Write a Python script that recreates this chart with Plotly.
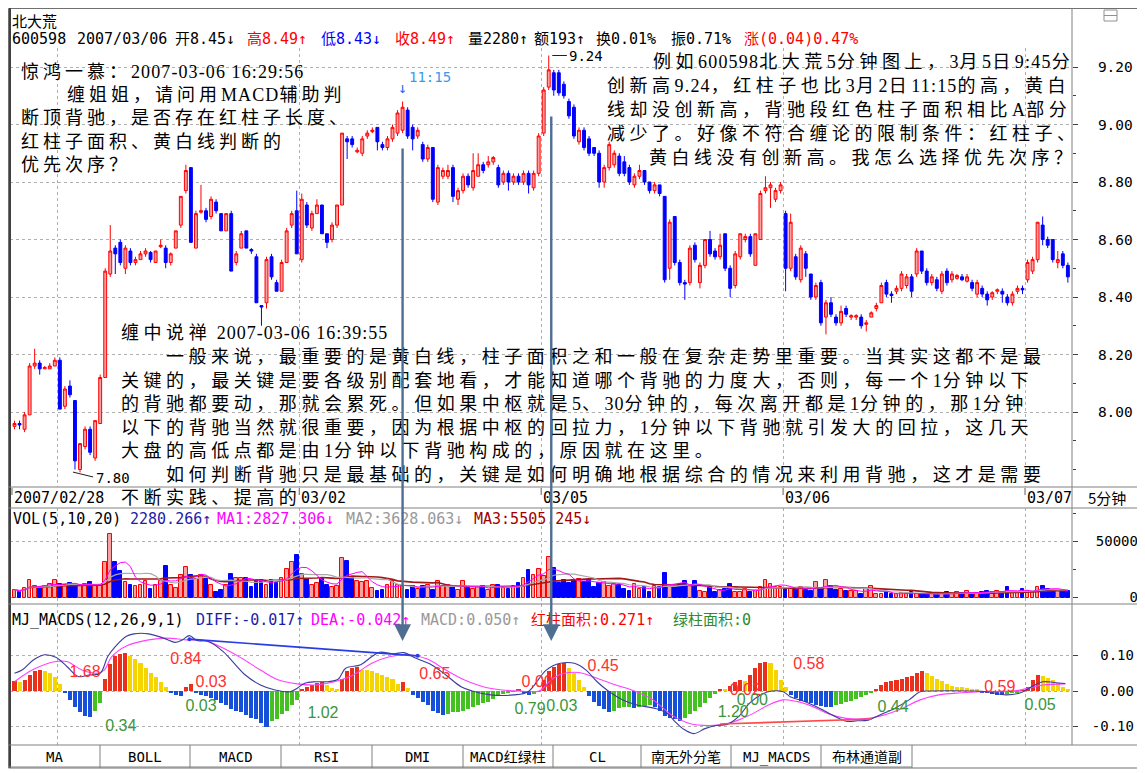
import plotly.graph_objects as go
import pandas as pd

# The page body has an 8px default margin, so the figure is drawn 8px smaller
# and every reference pixel position is shifted by that margin.
PAGE_W, PAGE_H, BODY_MARGIN = 1145, 773, 8
W, H = PAGE_W - BODY_MARGIN, PAGE_H - BODY_MARGIN
def X(px): return (px - BODY_MARGIN) / W
def Y(py): return 1 - (py - BODY_MARGIN) / H

# ---------------- data ----------------
OPEN = [7.95,7.96,7.94,7.99,8.16,8.17,8.15,8.15,8.16,
 8.18,8.02,8.09,8.04,7.80,7.88,7.94,7.84,7.96,8.12,8.48,8.57,8.59,8.50,8.56,8.52,8.53,8.55,8.555,8.52,8.575,8.57,8.52,8.57,8.65,8.77,8.85,8.57,8.695,8.70,8.68,8.73,8.69,8.63,8.69,8.52,8.57,8.63,8.565,8.54,8.37,8.38,8.54,8.45,8.42,8.52,8.65,8.70,
 8.53,8.72,8.64,8.69,8.72,8.62,8.60,8.65,8.72,8.95,8.95,8.905,8.90,8.96,8.975,8.99,8.93,8.92,8.95,8.97,8.98,9.05,8.99,8.96,8.93,8.88,8.92,8.73,8.82,8.82,8.85,8.74,8.77,8.82,8.78,8.82,8.86,8.86,8.87,8.85,8.80,8.83,8.80,8.82,8.80,8.83,8.78,8.83,
 8.97,9.13,9.18,9.18,9.14,9.08,9.06,8.94,8.98,8.95,8.92,8.90,8.80,8.85,8.86,8.89,8.87,8.85,8.79,8.82,8.84,8.80,8.77,8.79,8.75,8.50,8.68,8.52,8.45,8.45,8.58,8.45,8.51,8.60,8.56,8.54,8.62,8.50,8.44,8.54,8.60,8.61,8.51,8.60,8.77,8.78,8.74,8.77,
 8.69,8.50,8.54,8.46,8.55,8.48,8.40,8.45,8.33,8.38,8.33,8.31,8.36,8.33,8.33,8.33,8.305,8.33,8.36,8.38,8.45,8.41,8.42,8.43,8.44,8.47,8.48,8.56,8.49,8.45,8.46,8.42,8.49,8.46,8.465,8.47,8.455,8.45,8.41,8.43,8.41,8.40,8.42,8.42,8.40,8.38,8.42,8.43,
 8.46,8.49,8.53,8.65,8.60,8.60,8.52,8.55,8.51]
HIGH = [7.97,7.97,8.00,8.17,8.22,8.18,8.16,8.17,8.19,
 8.19,8.09,8.11,8.04,7.89,7.95,7.95,7.97,8.13,8.50,8.65,8.58,8.60,8.58,8.57,8.54,8.56,8.57,8.56,8.56,8.60,8.58,8.555,8.63,8.75,8.86,8.85,8.70,8.79,8.71,8.75,8.74,8.69,8.69,8.70,8.56,8.63,8.63,8.57,8.55,8.37,8.54,8.55,8.46,8.53,8.64,8.70,8.77,
 8.76,8.73,8.70,8.74,8.72,8.62,8.66,8.72,8.97,8.96,8.96,8.92,8.96,8.98,8.99,8.99,8.94,8.96,9.00,9.05,9.08,9.06,9.00,8.99,8.94,8.93,8.92,8.86,8.85,8.86,8.86,8.78,8.83,8.83,8.90,8.90,8.87,8.89,8.89,8.86,8.84,8.84,8.83,8.83,8.84,8.84,8.84,8.97,
 9.13,9.24,9.19,9.19,9.15,9.09,9.07,8.99,8.99,8.96,8.92,8.91,8.86,8.94,8.91,8.90,8.89,8.86,8.83,8.86,8.84,8.80,8.80,8.79,8.75,8.67,8.68,8.53,8.46,8.58,8.59,8.52,8.60,8.63,8.57,8.62,8.62,8.51,8.56,8.62,8.62,8.62,8.62,8.77,8.82,8.80,8.78,8.80,
 8.70,8.69,8.55,8.58,8.56,8.48,8.45,8.46,8.39,8.40,8.34,8.37,8.37,8.34,8.34,8.34,8.32,8.35,8.38,8.45,8.46,8.42,8.44,8.49,8.48,8.48,8.57,8.56,8.50,8.48,8.47,8.49,8.50,8.49,8.48,8.48,8.48,8.46,8.46,8.44,8.42,8.42,8.43,8.43,8.41,8.42,8.44,8.44,
 8.53,8.54,8.66,8.68,8.61,8.60,8.56,8.56,8.52]
LOW = [7.94,7.94,7.93,7.99,8.15,8.13,8.15,8.15,8.16,
 8.01,8.01,8.05,7.80,7.79,7.87,7.85,7.83,7.96,8.12,8.47,8.48,8.51,8.48,8.51,8.51,8.53,8.54,8.52,8.52,8.57,8.50,8.51,8.57,8.64,8.76,8.59,8.57,8.69,8.66,8.67,8.69,8.63,8.63,8.49,8.51,8.57,8.57,8.55,8.38,8.30,8.36,8.46,8.42,8.42,8.52,8.64,8.55,
 8.52,8.64,8.63,8.69,8.62,8.57,8.59,8.64,8.72,8.88,8.92,8.90,8.89,8.95,8.97,8.91,8.91,8.91,8.94,8.96,8.97,8.95,8.91,8.95,8.87,8.87,8.73,8.72,8.81,8.81,8.73,8.72,8.76,8.78,8.77,8.82,8.83,8.85,8.86,8.78,8.79,8.77,8.79,8.79,8.79,8.76,8.77,8.82,
 8.96,9.12,9.10,9.10,9.09,9.02,8.95,8.93,8.91,8.89,8.89,8.78,8.78,8.84,8.85,8.82,8.82,8.79,8.78,8.81,8.79,8.76,8.76,8.75,8.45,8.46,8.51,8.44,8.39,8.44,8.52,8.43,8.50,8.54,8.53,8.53,8.49,8.40,8.43,8.53,8.59,8.54,8.51,8.60,8.76,8.71,8.73,8.76,
 8.42,8.49,8.46,8.45,8.47,8.39,8.39,8.30,8.27,8.33,8.30,8.30,8.33,8.32,8.32,8.29,8.28,8.33,8.35,8.38,8.40,8.38,8.41,8.42,8.43,8.40,8.47,8.48,8.44,8.44,8.42,8.41,8.44,8.45,8.46,8.455,8.45,8.42,8.40,8.40,8.37,8.39,8.41,8.38,8.37,8.37,8.41,8.41,
 8.45,8.48,8.52,8.58,8.57,8.52,8.50,8.50,8.45]
CLOSE = [7.96,7.955,7.99,8.16,8.17,8.15,8.155,8.16,8.18,
 8.01,8.08,8.06,7.83,7.89,7.94,7.86,7.97,8.12,8.49,8.56,8.55,8.52,8.57,8.52,8.53,8.55,8.56,8.53,8.56,8.58,8.52,8.55,8.63,8.75,8.84,8.59,8.69,8.70,8.67,8.74,8.70,8.63,8.69,8.49,8.55,8.62,8.57,8.56,8.38,8.365,8.53,8.47,8.42,8.52,8.63,8.69,8.55,
 8.74,8.65,8.69,8.72,8.62,8.59,8.65,8.72,8.97,8.94,8.93,8.91,8.95,8.97,8.98,8.94,8.92,8.95,8.99,9.04,9.06,8.96,8.95,8.98,8.88,8.92,8.74,8.85,8.84,8.84,8.75,8.77,8.82,8.79,8.84,8.86,8.84,8.87,8.885,8.79,8.83,8.80,8.82,8.80,8.83,8.79,8.83,8.96,
 9.12,9.19,9.12,9.11,9.10,9.03,8.96,8.98,8.92,8.90,8.90,8.80,8.85,8.93,8.90,8.83,8.83,8.80,8.82,8.84,8.80,8.77,8.79,8.76,8.46,8.66,8.52,8.45,8.445,8.57,8.53,8.51,8.60,8.55,8.54,8.58,8.50,8.43,8.55,8.62,8.61,8.55,8.62,8.76,8.78,8.79,8.77,8.79,
 8.50,8.66,8.47,8.57,8.50,8.40,8.44,8.31,8.38,8.34,8.31,8.35,8.34,8.335,8.335,8.30,8.31,8.345,8.37,8.44,8.41,8.405,8.43,8.48,8.47,8.42,8.56,8.49,8.45,8.47,8.43,8.48,8.45,8.48,8.475,8.46,8.47,8.43,8.45,8.41,8.39,8.415,8.425,8.41,8.38,8.41,8.43,8.425,
 8.52,8.53,8.66,8.60,8.58,8.53,8.53,8.51,8.47]
VOLUME = [7000,5000,8500,15700,10000,9000,10000,12000,15700,
 12000,11400,12800,11400,10000,12000,13700,10000,10900,32000,57000,32000,23400,14000,11400,10000,11400,14300,8000,11400,14900,28000,11400,8600,20000,27000,20000,16600,20000,16600,11400,5100,6300,11400,21400,17700,17700,17700,9100,15700,15700,11400,15700,12900,17700,25700,32000,37700,
 21400,16600,11400,12900,16600,11400,9100,10000,35700,32900,18600,14900,13400,14300,8600,5700,6300,11400,14900,11400,10000,7100,10000,8000,10000,11400,7100,14900,10000,11400,9100,6300,14900,8600,8000,9100,10000,6300,11400,11400,8600,8000,10000,12600,17100,24300,20000,25700,
 18900,36000,26000,13300,15300,13300,15300,16100,14100,15300,9600,13300,14100,10500,11900,11300,7600,6200,11900,7600,9000,4800,10500,9600,21800,9600,9000,12400,14700,10500,14700,5600,4800,9000,4800,6800,7600,11900,5100,5100,7600,4800,6800,9600,15300,12400,9000,9600,
 8500,7600,7600,9600,6800,5600,14100,7600,15300,10500,6800,7600,5600,5600,5600,3400,7600,10500,2800,2800,4800,2800,2800,3900,2800,4800,2800,3400,2800,2800,3400,2800,4800,2800,4800,3900,6200,3400,3900,4800,6200,4800,5600,4800,9600,4800,4800,7600,
 5600,4800,9600,10500,7600,6200,5600,5600,6200]
MACD_BAR = [0.027,0.026,0.030,0.045,0.055,0.059,0.056,0.050,0.040,
 0.020,-0.005,-0.025,-0.045,-0.060,-0.070,-0.072,-0.055,-0.035,0.035,0.075,0.100,0.105,0.108,0.100,0.090,0.080,0.065,0.050,0.040,0.025,0.010,-0.005,-0.012,-0.015,0.012,0.020,-0.005,-0.010,-0.015,-0.020,-0.025,-0.035,-0.040,-0.050,-0.055,-0.060,-0.068,-0.075,-0.080,-0.090,-0.100,-0.085,-0.078,-0.065,-0.055,-0.040,-0.025,
 0.005,0.012,0.018,0.022,0.025,0.018,0.008,0.005,0.035,0.055,0.065,0.068,0.060,0.058,0.055,0.050,0.045,0.040,0.033,0.020,0.024,0.008,-0.010,-0.020,-0.030,-0.040,-0.055,-0.062,-0.067,-0.065,-0.060,-0.058,-0.055,-0.050,-0.045,-0.040,-0.035,-0.030,-0.022,-0.015,-0.008,-0.004,-0.002,0.003,-0.005,-0.010,-0.008,-0.002,
 0.030,0.055,0.068,0.075,0.078,0.065,0.052,0.030,0.010,-0.015,-0.030,-0.042,-0.050,-0.058,-0.055,-0.048,-0.046,-0.045,-0.048,-0.045,-0.042,-0.040,-0.045,-0.055,-0.070,-0.075,-0.080,-0.085,-0.075,-0.065,-0.055,-0.045,-0.035,-0.020,-0.008,0.005,0.004,0.015,0.025,0.030,0.028,0.045,0.065,0.080,0.082,0.078,0.060,0.030,
 0.010,-0.010,-0.020,-0.028,-0.032,-0.035,-0.040,-0.042,-0.045,-0.045,-0.040,-0.036,-0.032,-0.028,-0.023,-0.018,-0.012,-0.006,0.005,0.018,0.025,0.028,0.030,0.035,0.040,0.042,0.050,0.055,0.050,0.042,0.035,0.028,0.020,0.015,0.012,0.010,0.008,0.005,0.003,-0.003,-0.006,-0.008,-0.010,-0.010,-0.008,-0.006,-0.003,0.002,
 0.010,0.030,0.045,0.042,0.038,0.030,0.022,0.012,0.005]

DIFF_I = [0,1.5,3.8,6,8.2,10.4,12.6,14.8,17,18.5,20,22.2,23.7,26.6,29.6,31.8,33.3,34.7,36.2,38.4,41.4,43.6,45.8,48.8,51.7,54.7,56.1,57.6,59.8,62,64.2,65.7,68.7,70.9,72.4,75.3,77.2,79.7,82.7,85.6,88.6,90.8,94.5,99,101.9,105.5,108.3,111.1,113.4,115.6,117.8,120.7,123.7,127.4,129.6,131.1,132.6,134.8,137,139.2,141.4,143.6,145.8,148,150.3,152.5,153.9,156.9,159.8,162.8,165,167.2,169.4,171.6,174.6,177.5,179.7,181.9,189.3,193,196.7,199.6,201.8,204,206.3,208.5]
DIFF_V = [0.050,0.059,0.088,0.102,0.095,0.069,0.041,0.045,0.050,0.097,0.125,0.154,0.161,0.161,0.149,0.137,0.144,0.156,0.142,0.140,0.111,0.078,0.045,0.017,0.003,-0.002,0.008,0.022,0.026,0.026,0.033,0.064,0.074,0.097,0.109,0.105,0.108,0.092,0.074,0.045,0.012,0.0,-0.011,-0.011,-0.002,0.059,0.078,0.078,0.059,0.026,0.0,-0.025,-0.040,-0.050,-0.064,-0.087,-0.106,-0.120,-0.106,-0.097,-0.094,-0.073,-0.035,-0.011,0.0,-0.002,-0.016,-0.030,-0.049,-0.072,-0.085,-0.084,-0.082,-0.068,-0.049,-0.025,-0.002,0.0,0.0,-0.002,-0.011,-0.005,0.012,0.026,0.024,0.021]
DEA_I = [0,3.8,8.2,10.4,13.4,16.3,17.8,19.3,22.2,26.6,30.3,34,37.7,41.4,45.1,48.8,52.4,56.1,59.8,63.5,67.2,70.9,74.6,78.3,81.9,85.6,89.3,93,96.7,100.4,104.1,106,108,110,112,115.6,119.3,123,126.7,130.4,134.1,137.8,140.7,143.6,146.6,149.5,152.5,155.4,158.4,161.3,165,169.4,172.4,176.1,179.7,183.4,187.9,191.5,195.2,198.9,201.1,204,208.5]
DEA_V = [0.026,0.061,0.083,0.083,0.059,0.050,0.059,0.097,0.127,0.144,0.149,0.144,0.142,0.121,0.092,0.059,0.031,0.020,0.017,0.026,0.045,0.078,0.097,0.102,0.090,0.059,0.031,0.012,0.003,0.0,0.0,0.025,0.045,0.052,0.052,0.036,0.017,0.0,-0.025,-0.068,-0.092,-0.097,-0.094,-0.082,-0.063,-0.040,-0.025,-0.030,-0.044,-0.063,-0.077,-0.077,-0.068,-0.049,-0.025,-0.011,-0.005,-0.002,-0.002,0.001,0.008,0.017,0.020]

DIV_BLUE_I = [34.7, 80.0]
DIV_BLUE_V = [0.146, 0.099]
DIV_RED_I = [140.0, 170.1]
DIV_RED_V = [-0.093, -0.079]

RED_LBL = ["1.68", "0.84", "0.03", "0.65", "0.00", "0.45", "0.02", "0.58", "0.59"]
RED_LBL_I = [14.0, 34.0, 39.0, 83.4, 103.7, 116.8, 145.0, 157.6, 195.5]
RED_LBL_V = [0.051, 0.087, 0.023, 0.045, 0.023, 0.068, 0.0, 0.073, 0.008]
GRN_LBL = ["0.34", "0.03", "1.02", "0.79", "0.03", "1.20", "0.00", "0.44", "0.05"]
GRN_LBL_I = [21.1, 37.0, 61.2, 102.3, 108.6, 142.6, 146.4, 174.3, 203.5]
GRN_LBL_V = [-0.101, -0.045, -0.065, -0.054, -0.045, -0.062, -0.028, -0.048, -0.042]

PRICE_TICKS = [8.0, 8.2, 8.4, 8.6, 8.8, 9.0, 9.2]
VOL_TICKS = [0, 50000]
MACD_TICKS = [-0.1, 0.0, 0.1]
DAY_BOUNDS = [-0.5, 56.5, 104.5, 152.5, 200.5]
DAY_LABELS = ["2007/02/28", "03/02", "03/05", "03/06", "03/07"]
GRID_BOUNDS = [8.5, 56.5, 104.5, 152.5, 200.5]
TABS = ["MA", "BOLL", "MACD", "RSI", "DMI", "MACD红绿柱", "CL", "南无外分笔", "MJ_MACDS", "布林通道副"]
TAB_EDGES = [8, 100, 190, 281, 372, 463, 553, 641, 731, 821, 912]

N = len(CLOSE)
for arr in (OPEN, HIGH, LOW, VOLUME, MACD_BAR):
    assert len(arr) == N, len(arr)
XS = list(range(N))

# ---------------- styles ----------------
RED = "#ff0000"
RED_FILL = "#f9a0a0"
BLUE = "#0000ff"
MONO = "DejaVu Sans Mono, Noto Sans CJK SC"
SERIF = "Liberation Serif, Noto Sans CJK SC"
CJK = "Noto Sans CJK SC"

X_LEFT, X_RIGHT = 10, 1072
I0, DI = 14.5, 5.04
xr = [(X_LEFT - I0) / DI, (X_RIGHT - I0) / DI]

fig = go.Figure()

fig.add_trace(go.Candlestick(
    x=XS, open=OPEN, high=HIGH, low=LOW, close=CLOSE,
    increasing=dict(line=dict(color=RED, width=1), fillcolor=RED_FILL),
    decreasing=dict(line=dict(color=BLUE, width=1), fillcolor=BLUE),
    whiskerwidth=0, showlegend=False, hoverinfo="skip", xaxis="x", yaxis="y"))

up = [c >= o for o, c in zip(OPEN, CLOSE)]
fig.add_trace(go.Bar(
    x=XS, y=VOLUME, width=0.74, xaxis="x", yaxis="y2", showlegend=False,
    marker=dict(color=[RED_FILL if u else BLUE for u in up],
                line=dict(color=[RED if u else BLUE for u in up], width=1))))

vs = pd.Series(VOLUME, dtype=float)
for win, col, wd in ((20, "#a01818", 1.6), (10, "#a8a8a8", 1.2), (5, "#ff00ff", 1.0)):
    fig.add_trace(go.Scatter(x=XS, y=vs.rolling(win, min_periods=1).mean(), mode="lines",
                             line=dict(color=col, width=wd), xaxis="x", yaxis="y2",
                             showlegend=False, hoverinfo="skip"))

mcols = []
prev = 0.0
for v in MACD_BAR:
    if v >= 0:
        mcols.append("#e8301c" if v >= prev else "#f5d400")
    else:
        mcols.append("#1650d8" if v <= prev else "#44c020")
    prev = v
fig.add_trace(go.Bar(x=XS, y=MACD_BAR, width=0.8, xaxis="x", yaxis="y3", showlegend=False,
                     marker=dict(color=mcols, line=dict(width=0))))
fig.add_trace(go.Scatter(x=DEA_I, y=DEA_V, mode="lines", line=dict(color="#ff40ff", width=1.1, shape="spline"),
                         xaxis="x", yaxis="y3", showlegend=False))
fig.add_trace(go.Scatter(x=DIFF_I, y=DIFF_V, mode="lines", line=dict(color="#3c3c9c", width=1.1, shape="spline"),
                         xaxis="x", yaxis="y3", showlegend=False))
fig.add_trace(go.Scatter(x=DIV_BLUE_I, y=DIV_BLUE_V, mode="lines+markers", line=dict(color="#2a3ce8", width=1.6),
                         marker=dict(size=4, color="#2a3ce8"), xaxis="x", yaxis="y3", showlegend=False))
fig.add_trace(go.Scatter(x=DIV_RED_I, y=DIV_RED_V, mode="lines", line=dict(color="#ff4a4a", width=1.6),
                         xaxis="x", yaxis="y3", showlegend=False))
fig.add_trace(go.Scatter(x=RED_LBL_I, y=RED_LBL_V, text=RED_LBL, mode="text",
                         textfont=dict(family="Liberation Sans", size=16, color="#ff3030"),
                         xaxis="x", yaxis="y3", showlegend=False))
fig.add_trace(go.Scatter(x=GRN_LBL_I, y=GRN_LBL_V, text=GRN_LBL, mode="text",
                         textfont=dict(family="Liberation Sans", size=16, color="#3a963a"),
                         xaxis="x", yaxis="y3", showlegend=False))

# ---------------- axes ----------------
def py_to_price(py): return 9.20 - (py - 67) / 287.5
def py_to_vol(py): return (597.5 - py) / 56 * 50000
def py_to_macd(py): return (691 - py) / 355

grid = dict(showgrid=True, gridcolor="#b0b0b0", griddash="dot", gridwidth=1, zeroline=False)
fig.update_layout(
    width=W, height=H, margin=dict(l=0, r=0, t=0, b=0), autosize=False,
    paper_bgcolor="white", plot_bgcolor="white", bargap=0, boxgap=0.18, showlegend=False,
    xaxis=dict(domain=[X(X_LEFT), X(X_RIGHT)], range=xr, showticklabels=False, ticks="",
               tickvals=GRID_BOUNDS, rangeslider=dict(visible=False), showline=False, anchor="y", **grid),
    yaxis=dict(domain=[Y(487), Y(48)], range=[py_to_price(487), py_to_price(48)], side="right",
               anchor="x", tickvals=PRICE_TICKS, ticktext=[f"{v:.2f}" for v in PRICE_TICKS],
               ticks="outside", ticklen=5, tickcolor="#404040",
               minor=dict(ticks="outside", ticklen=3, dtick=0.1, tickcolor="#404040", showgrid=False),
               tickfont=dict(family=MONO, size=14.5, color="black"), ticklabelstandoff=17, **grid),
    yaxis2=dict(domain=[Y(604), Y(508)], range=[py_to_vol(604), py_to_vol(508)], side="right",
                anchor="x", tickvals=VOL_TICKS, ticktext=["\u00a0" * 4 + "0", "50000"],
                ticks="outside", ticklen=5, tickcolor="#404040",
                minor=dict(ticks="outside", ticklen=3, dtick=25000, tickcolor="#404040", showgrid=False),
                tickfont=dict(family=MONO, size=14, color="black"), ticklabelstandoff=15, **grid),
    yaxis3=dict(domain=[Y(745), Y(604)], range=[py_to_macd(745), py_to_macd(604)], side="right",
                anchor="x", tickvals=MACD_TICKS, ticktext=["-0.10", "\u00a00.00", "\u00a00.10"],
                ticks="outside", ticklen=5, tickcolor="#404040",
                tickfont=dict(family=MONO, size=14, color="black"), ticklabelstandoff=11, **grid),
)

# ---------------- frame lines ----------------
shapes = []
def hline(y, x0=8, x1=1141, col="#808080", w=1):
    shapes.append(dict(type="line", xref="paper", yref="paper", x0=X(x0), x1=X(x1), y0=Y(y), y1=Y(y),
                       line=dict(color=col, width=w)))
def vline(x, y0, y1, col="#808080", w=1):
    shapes.append(dict(type="line", xref="paper", yref="paper", x0=X(x), x1=X(x), y0=Y(y0), y1=Y(y1),
                       line=dict(color=col, width=w)))
shapes.append(dict(type="rect", xref="paper", yref="paper", x0=X(8.5), x1=X(1141), y0=Y(768), y1=Y(8.5),
                   line=dict(color="#707070", width=1)))
vline(10, 8, 768, "#404040", 2)
hline(487); hline(508); hline(604); hline(745)
vline(1072, 8, 745)
vline(1138, 8, 768, "#a0a0a0")
for xe in TAB_EDGES:
    vline(xe, 745, 768)
hline(767, 8, 912)
shapes.append(dict(type="rect", xref="paper", yref="paper", x0=X(1104), x1=X(1117), y0=Y(21), y1=Y(10),
                   line=dict(color="#909090", width=1)))
hline(15.5, 1104, 1117, "#909090")
for b in DAY_BOUNDS:
    shapes.append(dict(type="line", xref="x", yref="paper", x0=b, x1=b, y0=Y(488), y1=Y(495),
                       line=dict(color="#606060", width=1)))
shapes.append(dict(type="line", xref="x", yref="y", x0=106.7, x1=109.6, y0=9.24, y1=9.24,
                   line=dict(color="#202020", width=1)))
shapes.append(dict(type="line", xref="x", yref="y", x0=11.6, x1=15.6, y0=7.791, y1=7.774,
                   line=dict(color="#202020", width=1)))
fig.update_layout(shapes=shapes)

# ---------------- texts ----------------
ann = []
def txt(x, y, s, size=14, fam=MONO, col="black", anchor="left", yanchor="middle"):
    ann.append(dict(x=X(x), y=Y(y), xref="paper", yref="paper", text=s, showarrow=False,
                    xanchor=anchor, yanchor=yanchor, borderpad=0,
                    font=dict(family=fam, size=size, color=col)))

def sp(s, ls=4.2, lat=1.0):
    out, run, mode = [], "", None
    def flush(r, m):
        if r:
            out.append(f'<span style="letter-spacing:{ls if m else lat}px">{r}</span>')
    for ch in s:
        m = ord(ch) >= 0x2E80
        if mode is not None and m != mode:
            flush(run, mode); run = ""
        run += ch; mode = m
    flush(run, mode)
    return "".join(out)

def segments(y, segs, size=15):
    for s, x, col in segs:
        txt(x, y, s, size=size, col=col)

# header
txt(11, 9, "北大荒", size=15, fam=CJK, yanchor="top")
HDR = [("600598", 11, "black"), ("2007/03/06", 76, "black"), ("开8.45↓", 174, "black"),
       ("高8.49↑", 246, RED), ("低8.43↓", 320, BLUE), ("收8.49↑", 394, RED), ("量2280↑", 467, "black"),
       ("额193↑", 533, "black"), ("换0.01%", 595, "black"), ("振0.71%", 670, "black"),
       ("涨(0.04)0.47%", 743, RED)]
segments(39, HDR)

NAVY = "#1c1ca8"
VOLH = [("VOL(5,10,20)", 12, "black"), ("2280.266↑", 129, NAVY), ("MA1:2827.306↓", 216, "#ff00ff"),
        ("MA2:3628.063↓", 345, "#999999"), ("MA3:5505.245↓", 473, "#a00000")]
segments(519, VOLH)
MACDH = [("MJ_MACDS(12,26,9,1)", 11, "black"), ("DIFF:-0.017↑", 195, NAVY), ("DEA:-0.042↑", 310, "#ff00ff"),
         ("MACD:0.050↑", 420, "#999999"), ("红柱面积:0.271↑", 530, RED), ("绿柱面积:0", 672, "#2e8b2e")]
segments(620, MACDH)

# date strip
for b, lab in zip(DAY_BOUNDS, DAY_LABELS):
    ann.append(dict(x=b, y=Y(498), xref="x", yref="paper", text=lab, showarrow=False, xanchor="left",
                    yanchor="middle", xshift=0, font=dict(family=MONO, size=15, color="black")))
txt(1107, 498, "5分钟", size=15, fam=CJK, anchor="center")

# tabs
for i, t in enumerate(TABS):
    txt((TAB_EDGES[i] + TAB_EDGES[i + 1]) / 2, 757, t, size=14, anchor="center")

# block 1
B1 = ["惊鸿一慕：2007-03-06 16:29:56", "缠姐姐，请问用MACD辅助判", "断顶背驰，是否存在红柱子长度、",
      "红柱子面积、黄白线判断的", "优先次序？"]
B1_X = [20, 66, 20, 20, 20]
B1_Y = [72, 95, 118.5, 142, 165.5]
for s, x, y in zip(B1, B1_X, B1_Y):
    txt(x, y, sp(s, 4.0, 1.1), size=18, fam=SERIF)
# block 2
B2 = ["例如600598北大荒5分钟图上，3月5日9:45分", "创新高9.24，红柱子也比3月2日11:15的高，黄白",
      "线却没创新高，背驰段红色柱子面积相比A部分", "减少了。好像不符合缠论的限制条件：红柱子、",
      "黄白线没有创新高。我怎么选择优先次序？"]
B2_X = [652, 606, 606, 606, 648]
B2_Y = [62, 86, 110, 134, 158]
for s, x, y in zip(B2, B2_X, B2_Y):
    txt(x, y, sp(s, 4.5, 1.2), size=18, fam=SERIF)
# block 3
B3 = ["缠中说禅 2007-03-06 16:39:55",
      "一般来说，最重要的是黄白线，柱子面积之和一般在复杂走势里重要。当其实这都不是最",
      "关键的，最关键是要各级别配套地看，才能知道哪个背驰的力度大，否则，每一个1分钟以下",
      "的背驰都要动，那就会累死。但如果中枢就是5、30分钟的，每次离开都是1分钟的，那1分钟",
      "以下的背驰当然就很重要，因为根据中枢的回拉力，1分钟以下背驰就引发大的回拉，这几天",
      "大盘的高低点都是由1分钟以下背驰构成的，原因就在这里。",
      "如何判断背驰只是最基础的，关键是如何明确地根据综合的情况来利用背驰，这才是需要",
      "不断实践、提高的"]
B3_X = [120, 165, 120, 120, 120, 120, 165, 120]
B3_Y = [333, 357, 381, 404, 427.5, 451, 475, 498]
for s, x, y in zip(B3, B3_X, B3_Y):
    txt(x, y, sp(s, 4.55, 1.0), size=18, fam=SERIF)

# price-chart markers
ann.append(dict(x=77, y=9.128, xref="x", yref="y", text="↓", showarrow=False,
                font=dict(family=MONO, size=15, color="#2a6cf0")))
ann.append(dict(x=82.5, y=9.165, xref="x", yref="y", text="11:15", showarrow=False,
                font=dict(family=MONO, size=14, color="#3a9af0")))
ann.append(dict(x=109.6, y=9.24, xref="x", yref="y", text="9.24", showarrow=False, xanchor="left",
                font=dict(family=MONO, size=14, color="black")))
ann.append(dict(x=15.8, y=7.772, xref="x", yref="y", text="7.80", showarrow=False, xanchor="left",
                font=dict(family=MONO, size=14, color="black")))

# long arrows from price chart down to MACD panel
for xi, ytop in ((77.0, 147), (106.5, 115)):
    ann.append(dict(x=xi, y=Y(641), xref="x", yref="paper", ax=0, ay=-(641 - ytop), axref="pixel",
                    ayref="pixel", text="", showarrow=True, arrowhead=2, arrowsize=1.4, arrowwidth=2.4,
                    arrowcolor="#4f6f92"))

fig.update_layout(annotations=ann)
fig.write_html("out.html")
